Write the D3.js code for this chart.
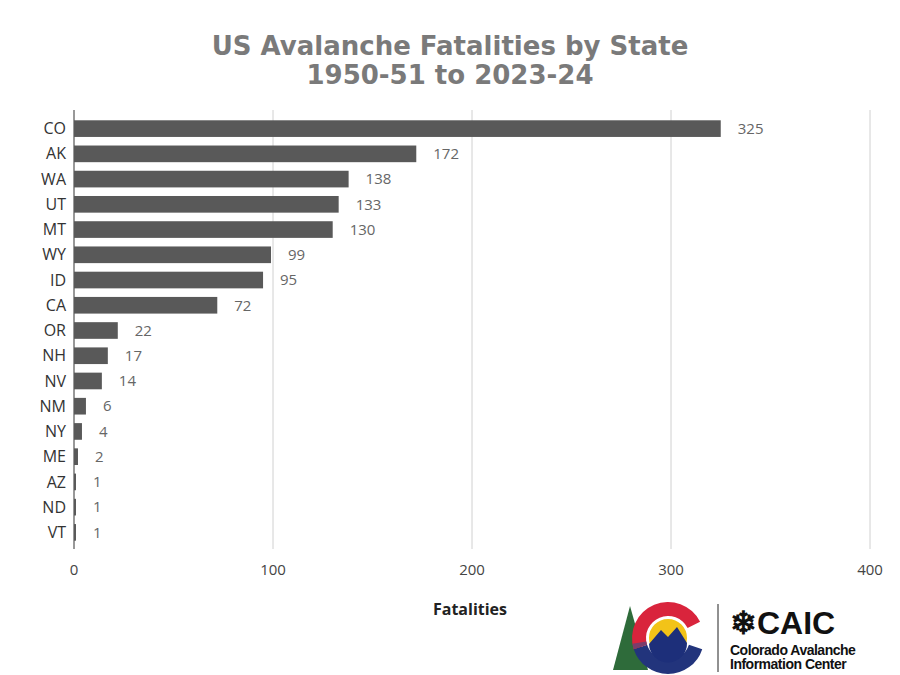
<!DOCTYPE html>
<meta charset="utf-8">
<script src="https://d3js.org/d3.v7.min.js"></script>
<style>body{margin:0;background:#fff}</style>
<div id="chart"></div>
<script>
// data
var states = ["CO","AK","WA","UT","MT","WY","ID","CA","OR","NH","NV","NM","NY","ME","AZ","ND","VT"];
var fatalities = [325,172,138,133,130,99,95,72,22,17,14,6,4,2,1,1,1];
var xTicks = [0,100,200,300,400];

var W = 900, H = 675;
var margin = { top: 116, right: 30, bottom: 130, left: 74 },
    width = 870 - margin.left,
    height = 545 - margin.top;

var svg = d3.select("#chart").append("svg")
    .attr("width", W).attr("height", H)
    .style("font-family", "Open Sans, sans-serif");

// title
svg.append("text").attr("x", 450).attr("y", 55).attr("text-anchor", "middle")
    .attr("font-size", 26).attr("font-weight", "bold").attr("fill", "#7a7a7a")
    .attr("font-family", "DejaVu Sans, sans-serif").text("US Avalanche Fatalities by State");
svg.append("text").attr("x", 450).attr("y", 84).attr("text-anchor", "middle")
    .attr("font-size", 26).attr("font-weight", "bold").attr("fill", "#7a7a7a")
    .attr("font-family", "DejaVu Sans, sans-serif").text("1950-51 to 2023-24");

var g = svg.append("g").attr("transform", "translate(" + margin.left + "," + margin.top + ")");

var x = d3.scaleLinear().domain([0, 400]).range([0, width]);
var y = d3.scaleBand().domain(states).range([0, height]).paddingInner(0.34).paddingOuter(0.17);

// gridlines
g.selectAll(".grid").data(xTicks.slice(1)).enter().append("line")
    .attr("x1", d => x(d)).attr("x2", d => x(d))
    .attr("y1", -6).attr("y2", height + 4)
    .attr("stroke", "#d0d0d0").attr("stroke-width", 1);
g.append("line").attr("x1", 0).attr("x2", 0).attr("y1", -6).attr("y2", height + 4)
    .attr("stroke", "#333").attr("stroke-width", 1);

// bars
g.selectAll("rect").data(fatalities).enter().append("rect")
    .attr("x", 0)
    .attr("y", (d, i) => y(states[i]))
    .attr("width", d => x(d))
    .attr("height", y.bandwidth())
    .attr("fill", "#595959");

// value labels
g.selectAll(".val").data(fatalities).enter().append("text")
    .attr("x", d => x(d) + 17)
    .attr("y", (d, i) => y(states[i]) + y.bandwidth() / 2)
    .attr("dy", "0.35em").attr("font-size", 15).attr("fill", "#666")
    .text(d => d);

// y labels
g.selectAll(".lab").data(states).enter().append("text")
    .attr("x", -8).attr("y", d => y(d) + y.bandwidth() / 2)
    .attr("dy", "0.35em").attr("text-anchor", "end")
    .attr("font-size", 16).attr("fill", "#333").text(d => d);

// x tick labels
g.selectAll(".xt").data(xTicks).enter().append("text")
    .attr("x", d => x(d)).attr("y", height + 30)
    .attr("text-anchor", "middle").attr("font-size", 15).attr("fill", "#444")
    .text(d => d);

svg.append("text").attr("x", 470).attr("y", 615).attr("text-anchor", "middle")
    .attr("font-size", 16).attr("font-weight", "bold").attr("fill", "#222").text("Fatalities");

// logo (approximation)
var logo = svg.append("g").attr("transform", "translate(668,638)");
logo.append("path").attr("d", "M-55,32 L-38,-32 L-20,32 Z").attr("fill", "#2e6b3a");
logo.append("path").attr("d", d3.arc()({innerRadius: 22, outerRadius: 36, startAngle: Math.PI * 0.6, endAngle: Math.PI * 1.4})).attr("fill", "#22347c");
logo.append("path").attr("d", d3.arc()({innerRadius: 22, outerRadius: 36, startAngle: -Math.PI * 0.6, endAngle: Math.PI * 0.35})).attr("fill", "#d9243c");
logo.append("path").attr("d", d3.arc()({innerRadius: 22, outerRadius: 36, startAngle: Math.PI * 1.4, endAngle: Math.PI * 1.45})).attr("fill", "#7a3d6b");
logo.append("circle").attr("r", 20).attr("fill", "#f2c318").attr("stroke", "#fff").attr("stroke-width", 2);
logo.append("path").attr("d", "M-19,6 L-7,-8 L0,-1 L9,-11 L19,5 A19,19 0 0 1 -19,6 Z").attr("fill", "#1d2f7a");
svg.append("line").attr("x1", 718).attr("x2", 718).attr("y1", 604).attr("y2", 672).attr("stroke", "#222");
svg.append("text").attr("x", 730).attr("y", 634).attr("font-size", 32).attr("font-weight", "900")
    .attr("font-family", "Liberation Sans, Arial, sans-serif").attr("fill", "#111").text("❄CAIC");
svg.append("text").attr("x", 730).attr("y", 655).attr("font-size", 14).attr("font-weight", "bold")
    .attr("letter-spacing", -0.5).attr("font-family", "Liberation Sans, Arial, sans-serif").attr("fill", "#111").text("Colorado Avalanche");
svg.append("text").attr("x", 730).attr("y", 669).attr("font-size", 14).attr("font-weight", "bold")
    .attr("letter-spacing", -0.5).attr("font-family", "Liberation Sans, Arial, sans-serif").attr("fill", "#111").text("Information Center");
</script>
